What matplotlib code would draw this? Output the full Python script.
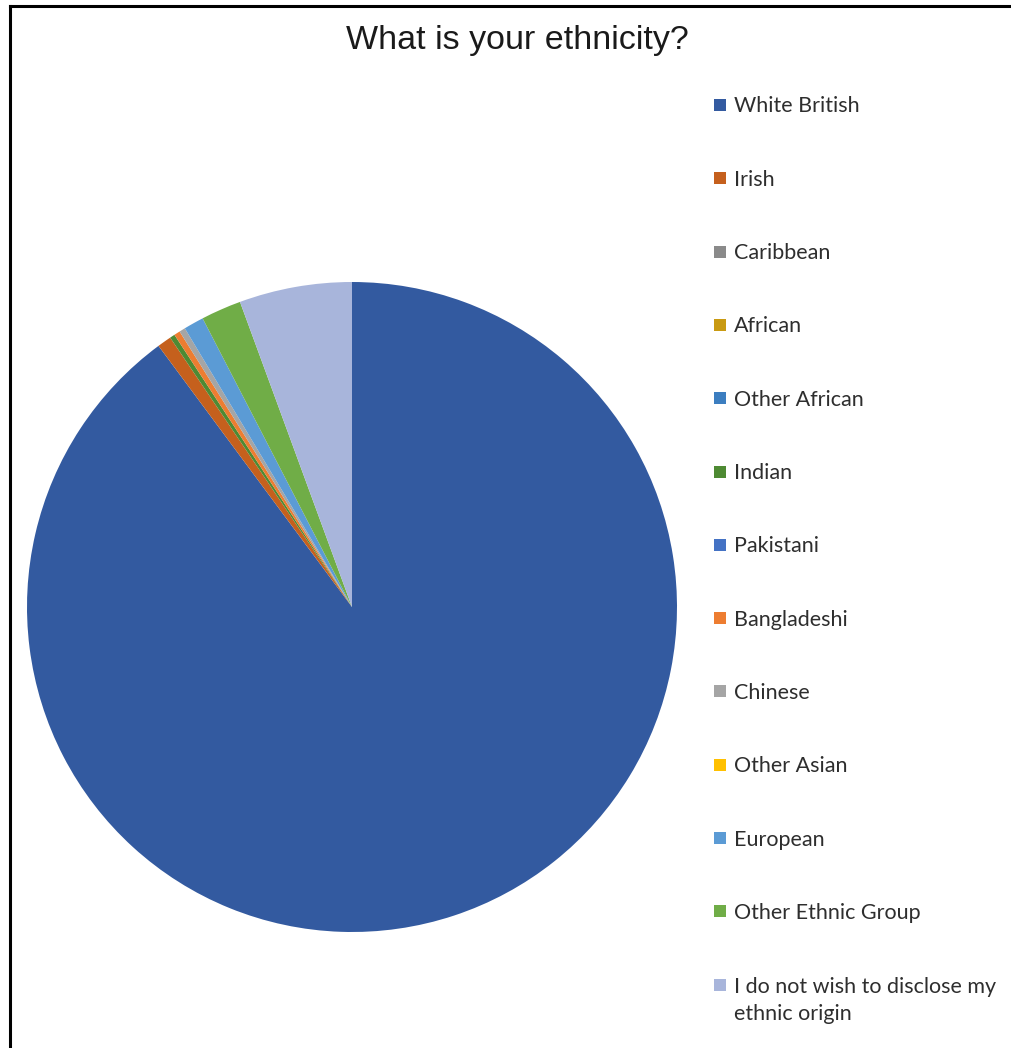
import matplotlib
matplotlib.use("Agg")
import matplotlib.pyplot as plt
from matplotlib.lines import Line2D
from matplotlib.patches import Rectangle

# Survey responses, percent of respondents
groups = [
    "White British", "Irish", "Caribbean", "African", "Other African",
    "Indian", "Pakistani", "Bangladeshi", "Chinese", "Other Asian",
    "European", "Other Ethnic Group",
    "I do not wish to disclose my\nethnic origin",
]
shares = [89.85, 0.7, 0.0, 0.0, 0.0, 0.25, 0.0, 0.3, 0.3, 0.0, 1.0, 2.0, 5.6]
colors = [
    "#335AA0", "#C5601D", "#8A8A8A", "#C99A12", "#3C7EC0",
    "#4E8A33", "#4472C4", "#ED7D31", "#A5A5A5", "#FFC000",
    "#5B9BD5", "#70AD47", "#A8B5DB",
]

W, H = 1012, 1048
fig = plt.figure(figsize=(W / 100, H / 100), dpi=100, facecolor="white")

# pie axes: centre (352, 607) px, radius 325 px
cx, cy, r = 352, 607, 325
ax = fig.add_axes([(cx - r) / W, (H - cy - r) / H, 2 * r / W, 2 * r / H])
ax.pie(shares, colors=colors, startangle=90, counterclock=False,
       wedgeprops=dict(linewidth=0))
ax.set_xlim(-1, 1)
ax.set_ylim(-1, 1)
ax.set_aspect("equal")
ax.axis("off")

fig.text(517 / W, 1 - 41 / H, "What is your ethnicity?", ha="center", va="center",
         fontsize=24.5, family="Liberation Sans", color="#1a1a1a")

# legend, drawn by hand so rows keep the wide spacing
for i, (label, col) in enumerate(zip(groups, colors)):
    y = 105 + i * 73.3
    fig.patches.append(Rectangle((714 / W, 1 - (y + 6) / H), 12 / W, 12 / H,
                                 transform=fig.transFigure, facecolor=col,
                                 edgecolor="none"))
    ty = y + 16 if "\n" in label else y + 1.5
    fig.text(734 / W, 1 - ty / H, label, ha="left", va="center",
             fontsize=15.5, family="Lato", color="#2e2e2e", linespacing=1.45)

# chart frame (top and left edges only)
fig.add_artist(Line2D([10 / W, 10 / W], [0, 1 - 6 / H], transform=fig.transFigure,
                      color="black", linewidth=2.2))
fig.add_artist(Line2D([10 / W, 1], [1 - 6 / H, 1 - 6 / H], transform=fig.transFigure,
                      color="black", linewidth=2.2))

fig.savefig("out.png", dpi=100, facecolor="white")
